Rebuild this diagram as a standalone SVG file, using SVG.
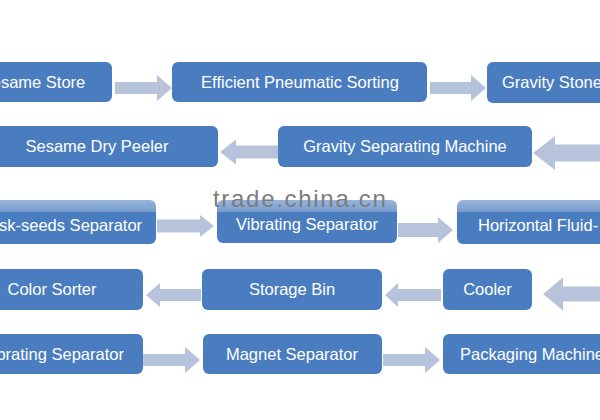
<svg xmlns="http://www.w3.org/2000/svg" width="600" height="420" viewBox="0 0 600 420">
<defs>
<style>
.box{fill:#4a7dbf;}
.t{font-family:"Liberation Sans",Arial,sans-serif;font-size:16.5px;fill:#ffffff;text-anchor:middle;}
.ts{font-family:"Liberation Sans",Arial,sans-serif;font-size:16.5px;fill:#ffffff;text-anchor:start;}
.arr{fill:#b7c3da;}
.wm{font-family:"Liberation Sans",Arial,sans-serif;font-size:24px;fill:#7d7d7d;letter-spacing:1.7px;}
</style>
<linearGradient id="fade" x1="0" y1="0" x2="0" y2="1">
<stop offset="0" stop-color="#ffffff" stop-opacity="0.45"/>
<stop offset="1" stop-color="#ffffff" stop-opacity="0.25"/>
</linearGradient>
</defs>
<rect width="600" height="420" fill="#ffffff"/>
<g id="connectors">
<polygon class="arr" points="115,82 157,82 157,75 172,88 157,101 157,94 115,94"/>
<polygon class="arr" points="430,82 471,82 471,75 486,88 471,101 471,94 430,94"/>
<polygon class="arr" points="278,145.5 236,145.5 236,139.5 220,152 236,164.5 236,158.5 278,158.5"/>
<polygon class="arr" points="605,144.5 555,144.5 555,136 533,153 555,170 555,161.5 605,161.5"/>
<polygon class="arr" points="157,219.5 200,219.5 200,215 214,226 200,237 200,232.5 157,232.5"/>
<polygon class="arr" points="398,223 438,223 438,217 453,230 438,243 438,237 398,237"/>
<polygon class="arr" points="201,289 160,289 160,283 146,295 160,307 160,301 201,301"/>
<polygon class="arr" points="441,289 398,289 398,283 385,295 398,307 398,301 441,301"/>
<polygon class="arr" points="605,286.5 563,286.5 563,277.5 543,294 563,310.5 563,301.5 605,301.5"/>
<polygon class="arr" points="143,354 185,354 185,347 200,360 185,373 185,366 143,366"/>
<polygon class="arr" points="383,354 425,354 425,347 440,360 425,373 425,366 383,366"/>
</g>
<g id="sesame-store"><rect class="box" x="-46" y="62" width="158" height="40" rx="6"/><text class="t" x="33" y="88">Sesame Store</text></g>
<g id="pneumatic-sorting"><rect class="box" x="172" y="62" width="255" height="40" rx="6"/><text class="t" x="300" y="88">Efficient Pneumatic Sorting</text></g>
<g id="gravity-stone"><rect class="box" x="487" y="62" width="150" height="41" rx="6"/><text class="ts" x="502" y="88">Gravity Stone</text></g>
<g id="dry-peeler"><rect class="box" x="-24" y="126" width="242" height="41" rx="6"/><text class="t" x="97" y="152">Sesame Dry Peeler</text></g>
<g id="gravity-separating"><rect class="box" x="278" y="126" width="254" height="41" rx="6"/><text class="t" x="405" y="152">Gravity Separating Machine</text></g>
<g id="husk-separator"><rect class="box" x="-36" y="200" width="192" height="44" rx="6"/><text class="t" x="60" y="231">Husk-seeds Separator</text></g>
<g id="vibrating-separator-1"><rect class="box" x="217" y="200" width="180" height="43" rx="6"/><text class="t" x="307" y="230">Vibrating Separator</text></g>
<g id="fluid-bed"><rect class="box" x="457" y="200" width="183" height="44" rx="6"/><text class="ts" x="478" y="231">Horizontal Fluid-</text></g>
<g id="color-sorter"><rect class="box" x="-39" y="269" width="182" height="41" rx="6"/><text class="t" x="52" y="295">Color Sorter</text></g>
<g id="storage-bin"><rect class="box" x="202" y="269" width="180" height="41" rx="6"/><text class="t" x="292" y="295">Storage Bin</text></g>
<g id="cooler"><rect class="box" x="443" y="269" width="89" height="41" rx="6"/><text class="t" x="487.5" y="295">Cooler</text></g>
<g id="vibrating-separator-2"><rect class="box" x="-37" y="334" width="180" height="40" rx="6"/><text class="t" x="53" y="360">Vibrating Separator</text></g>
<g id="magnet-separator"><rect class="box" x="203" y="334" width="179" height="40" rx="6"/><text class="t" x="292" y="360">Magnet Separator</text></g>
<g id="packaging-machine"><rect class="box" x="443" y="334" width="197" height="40" rx="6"/><text class="ts" x="460" y="360">Packaging Machine</text></g>
<rect x="0" y="199" width="600" height="13" fill="url(#fade)"/>
<text class="wm" x="213" y="207">trade.china.cn</text>
</svg>
